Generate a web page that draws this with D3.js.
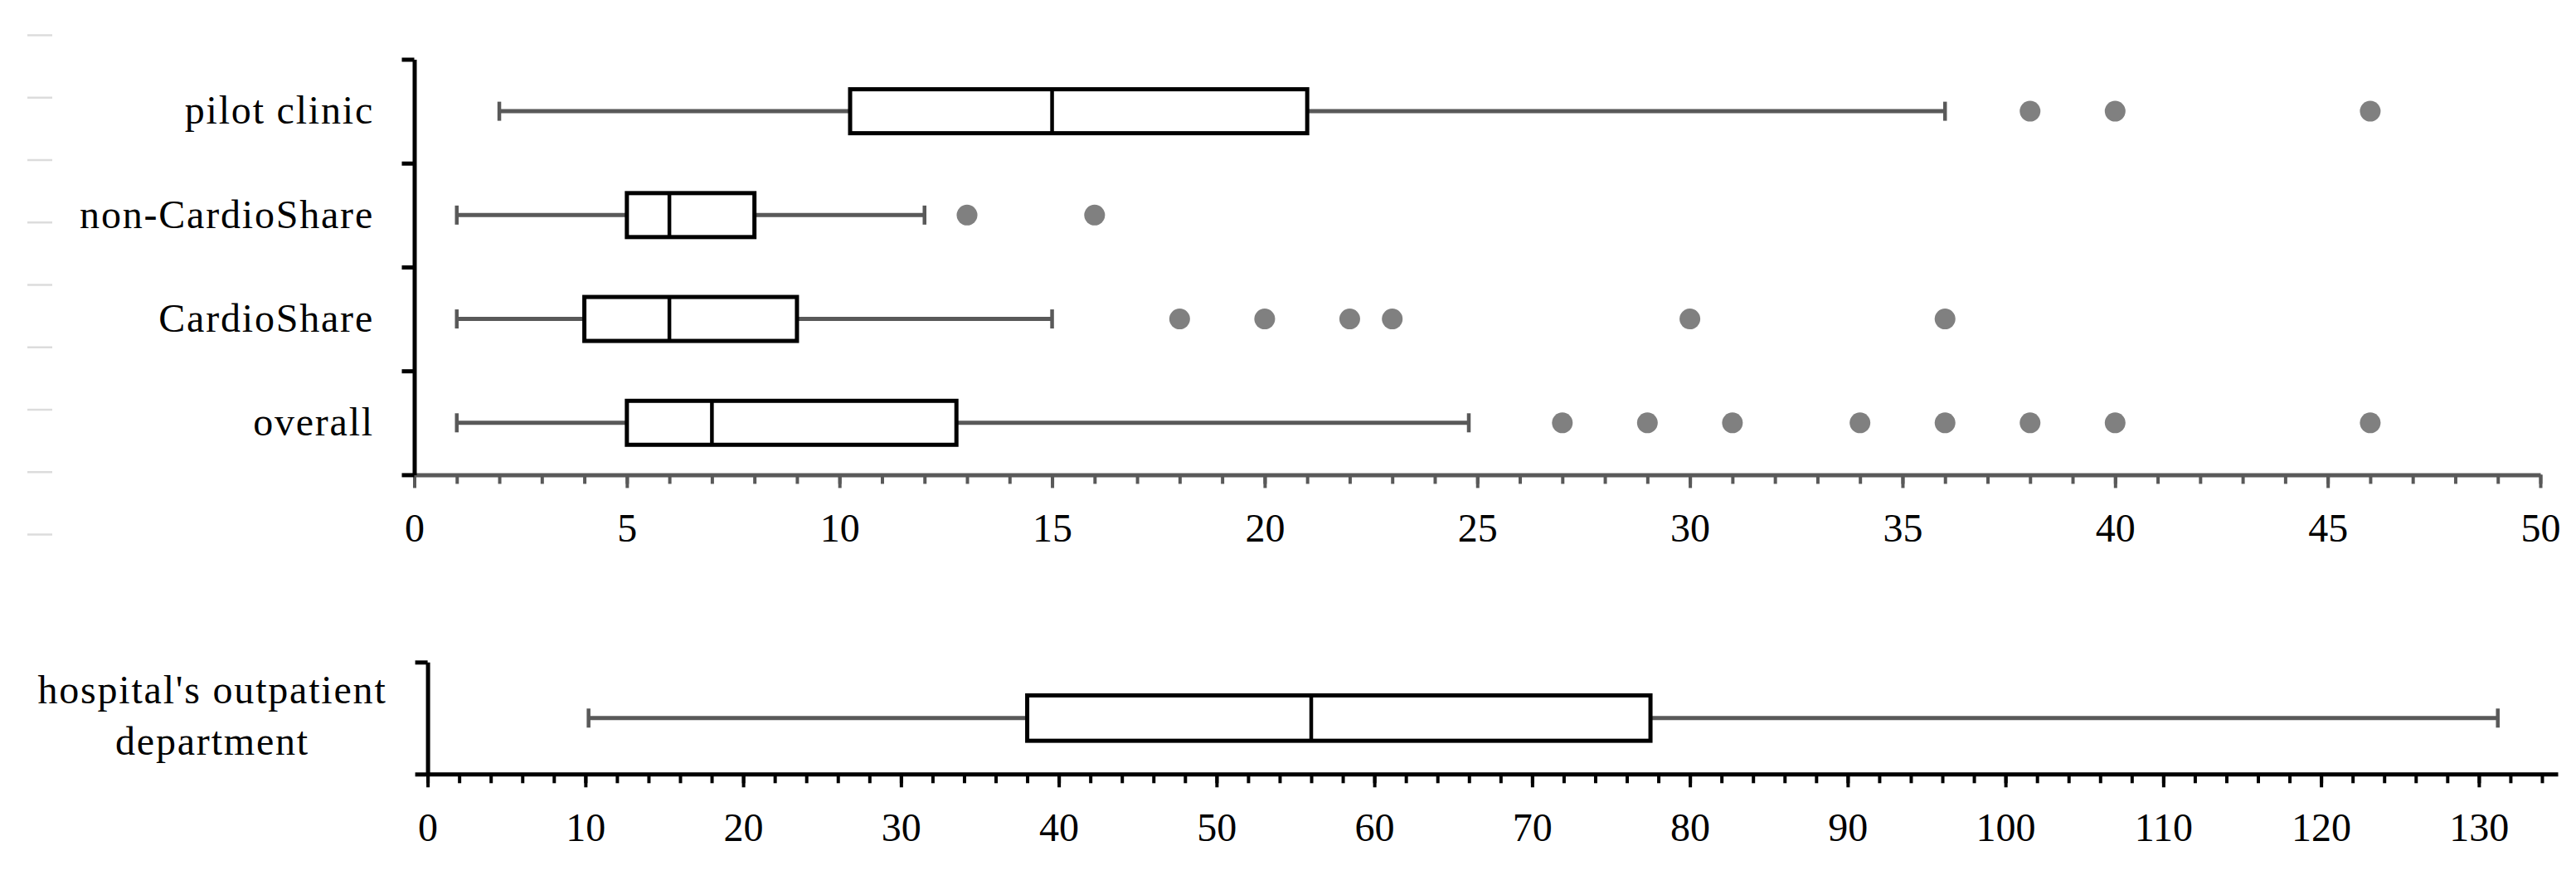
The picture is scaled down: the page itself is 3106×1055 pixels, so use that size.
<!DOCTYPE html>
<html>
<head>
<meta charset="utf-8">
<script src="https://cdn.jsdelivr.net/npm/d3@7"></script>
<style>
  body { margin: 0; background: #fff; }
  svg text { font-family: "Liberation Serif", "Times New Roman", serif; fill: #000; }
</style>
</head>
<body>
<div id="chart"></div>
<script>
// values
const categories = ["pilot clinic", "non-CardioShare", "CardioShare", "overall"];
const lowWhisker = [2, 1, 1, 1];
const q1 = [10.25, 5, 4, 5];
const medians = [15, 6, 6, 7];
const q3 = [21, 8, 9, 12.75];
const highWhisker = [36, 12, 15, 24.8];
const outliers = [
    [38, 40, 46],
    [13, 16],
    [18, 20, 22, 23, 30, 36],
    [27, 29, 31, 34, 36, 38, 40, 46]
];

const hospitalCategory = ["hospital's outpatient department"];
const hospitalLabelLines = ["hospital's outpatient", "department"];
const hospitalStats = [10.2, 38, 56, 77.5, 131.2]; // low, q1, median, q3, high

const topMajorTicks = d3.range(0, 51, 5);
const topMinorTicks = d3.range(0, 51, 1);
const bottomMajorTicks = d3.range(0, 131, 10);
const bottomMinorTicks = d3.range(0, 135, 2);

// setup
const fontSize = 48;
const spacing = "1.8px";
const gray = "#595959";
const dotGray = "#808080";

const svg = d3.select("#chart")
    .append("svg")
    .attr("width", 3106)
    .attr("height", 1055);

// faint marks along the left edge
const markScale = d3.scalePoint().domain(d3.range(9)).range([42, 644]);
const marks = svg.append("g")
    .attr("transform", "translate(33,0)")
    .call(d3.axisRight(markScale).tickSize(30).tickFormat(""));
marks.select(".domain").remove();
marks.selectAll("line").attr("stroke", "#dcdcdc").attr("stroke-width", 2.5);

// draw x axis with minor + major ticks
function drawXAxis(x, yPos, major, minor, color) {
    const gMinor = svg.append("g")
        .attr("transform", "translate(0," + yPos + ")")
        .call(d3.axisBottom(x).tickValues(minor).tickSize(11).tickSizeOuter(0).tickFormat(""));
    gMinor.select(".domain").remove();
    gMinor.selectAll("line").attr("stroke", color).attr("stroke-width", 4);

    const gMajor = svg.append("g")
        .attr("transform", "translate(0," + yPos + ")")
        .call(d3.axisBottom(x).tickValues(major).tickSize(16).tickSizeOuter(0).tickFormat(d3.format("d")));
    gMajor.select(".domain").attr("stroke", color).attr("stroke-width", 5);
    gMajor.selectAll("line").attr("stroke", color).attr("stroke-width", 4);
    gMajor.selectAll("text")
        .attr("y", 81)
        .attr("dy", null)
        .style("font-size", fontSize + "px");
}

// y axis with ticks at band edges
function drawYAxis(y, xPos, n) {
    const edge = d3.scaleLinear().domain([0, n]).range([y.range()[1], y.range()[0]]);
    const g = svg.append("g")
        .attr("transform", "translate(" + xPos + ",0)")
        .call(d3.axisLeft(edge).tickValues(d3.range(0, n + 1)).tickSize(15).tickSizeOuter(0).tickFormat(""));
    g.select(".domain").attr("stroke", "#000").attr("stroke-width", 5);
    g.selectAll("line").attr("stroke", "#000").attr("stroke-width", 5);
}

// box + whiskers
function drawBox(g, x, yc, boxH, lo, a, m, b, hi) {
    const capH = 23;
    g.append("line").attr("x1", x(lo)).attr("x2", x(a)).attr("y1", yc).attr("y2", yc)
        .attr("stroke", gray).attr("stroke-width", 5);
    g.append("line").attr("x1", x(b)).attr("x2", x(hi)).attr("y1", yc).attr("y2", yc)
        .attr("stroke", gray).attr("stroke-width", 5);
    [lo, hi].forEach(v => {
        g.append("line").attr("x1", x(v)).attr("x2", x(v))
            .attr("y1", yc - capH / 2).attr("y2", yc + capH / 2)
            .attr("stroke", gray).attr("stroke-width", 4.5);
    });
    g.append("rect")
        .attr("x", x(a)).attr("y", yc - boxH / 2)
        .attr("width", x(b) - x(a)).attr("height", boxH)
        .attr("fill", "#fff").attr("stroke", "#000").attr("stroke-width", 5);
    g.append("line").attr("x1", x(m)).attr("x2", x(m))
        .attr("y1", yc - boxH / 2).attr("y2", yc + boxH / 2)
        .attr("stroke", "#000").attr("stroke-width", 4.5);
}

// ---- top chart ----
const x1 = d3.scaleLinear().domain([0, 50]).range([499.5, 3063]);
const y1 = d3.scaleBand().domain(categories).range([71.5, 572.4]);

drawXAxis(x1, 572.4, topMajorTicks, topMinorTicks, gray);
drawYAxis(y1, 499.5, categories.length);

const topG = svg.append("g");
categories.forEach((c, i) => {
    const yc = y1(c) + y1.bandwidth() / 2;
    drawBox(topG, x1, yc, 53, lowWhisker[i], q1[i], medians[i], q3[i], highWhisker[i]);
    topG.selectAll(null)
        .data(outliers[i])
        .enter().append("circle")
        .attr("cx", d => x1(d))
        .attr("cy", yc)
        .attr("r", 12.5)
        .attr("fill", dotGray);
    topG.append("text")
        .attr("x", 451)
        .attr("y", yc)
        .attr("dy", "0.32em")
        .attr("text-anchor", "end")
        .style("font-size", fontSize + "px")
        .style("letter-spacing", spacing)
        .text(c);
});

// ---- bottom chart ----
const x2 = d3.scaleLinear().domain([0, 135]).range([515.6, 3084]);
const y2 = d3.scaleBand().domain(hospitalCategory).range([798.3, 933.3]);

drawXAxis(x2, 933.3, bottomMajorTicks, bottomMinorTicks, "#000");
drawYAxis(y2, 515.6, 1);

const bottomG = svg.append("g");
const yc2 = y2(hospitalCategory[0]) + y2.bandwidth() / 2;
drawBox(bottomG, x2, yc2, 54.7, ...hospitalStats);

bottomG.append("text")
    .attr("text-anchor", "middle")
    .style("font-size", fontSize + "px")
    .style("letter-spacing", spacing)
    .selectAll("tspan")
    .data(hospitalLabelLines)
    .enter().append("tspan")
    .attr("x", 256)
    .attr("y", (d, i) => yc2 - 0.37 * fontSize + i * 62)
    .text(d => d);
</script>
</body>
</html>
